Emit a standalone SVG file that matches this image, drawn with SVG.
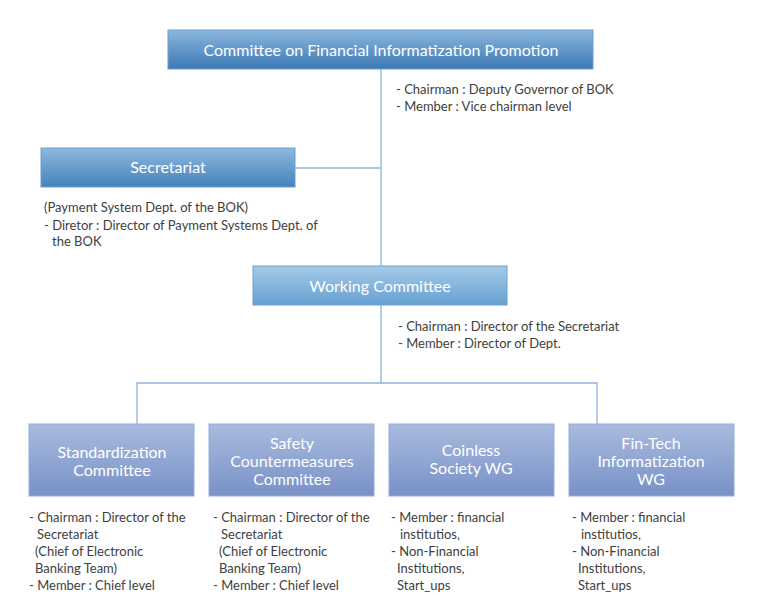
<svg xmlns="http://www.w3.org/2000/svg" width="762" height="612" viewBox="0 0 762 612">
<defs>
<linearGradient id="gTop" x1="0" y1="0" x2="0" y2="1"><stop offset="0" stop-color="#8cb7dd"/><stop offset="1" stop-color="#3b79b5"/></linearGradient>
<linearGradient id="gSec" x1="0" y1="0" x2="0" y2="1"><stop offset="0" stop-color="#8eb9de"/><stop offset="1" stop-color="#4482bd"/></linearGradient>
<linearGradient id="gWork" x1="0" y1="0" x2="0" y2="1"><stop offset="0" stop-color="#a6cae8"/><stop offset="1" stop-color="#65a0d2"/></linearGradient>
<linearGradient id="gLow" x1="0" y1="0" x2="0" y2="1"><stop offset="0" stop-color="#a9bbde"/><stop offset="1" stop-color="#7891c7"/></linearGradient>
<style>
.bx{stroke:#6f9fd0;stroke-width:1}
.lb{stroke:#93aedb;stroke-width:1}
.t{font-family:Lato,"Liberation Sans",sans-serif;fill:#fff;text-anchor:middle;font-size:16px}
.n{font-family:Lato,"Liberation Sans",sans-serif;fill:#404040;font-size:13px}
.c{fill:none;stroke:#8fb3dc;stroke-width:1.3}
</style>
</defs>
<rect width="762" height="612" fill="#fff"/>
<g id="connectors">
<path class="c" d="M381 69V266"/>
<path class="c" d="M295 168H381"/>
<path class="c" d="M381 305V383"/>
<path class="c" d="M137 424V383H597V424"/>
</g>
<g id="n-top">
<rect class="bx" x="168" y="30" width="425" height="39" fill="url(#gTop)"/>
<text class="t" x="381" y="56">Committee on Financial Informatization Promotion</text>
<text class="n" x="396" y="94">- Chairman : Deputy Governor of BOK</text>
<text class="n" x="396" y="111">- Member : Vice chairman level</text>
</g>
<g id="n-sec">
<rect class="bx" x="41" y="148" width="254" height="39" fill="url(#gSec)"/>
<text class="t" x="168" y="173">Secretariat</text>
<text class="n" x="44" y="212">(Payment System Dept. of the BOK)</text>
<text class="n" x="44" y="230">- Diretor : Director of Payment Systems Dept. of</text>
<text class="n" x="52" y="246">the BOK</text>
</g>
<g id="n-work">
<rect class="bx" x="253" y="266" width="254" height="39" fill="url(#gWork)"/>
<text class="t" x="380" y="292">Working Committee</text>
<text class="n" x="398" y="331">- Chairman : Director of the Secretariat</text>
<text class="n" x="398" y="348">- Member : Director of Dept.</text>
</g>
<g id="n-std">
<rect class="lb" x="29" y="424" width="165" height="72" fill="url(#gLow)"/>
<text class="t" x="112" y="458">Standardization</text>
<text class="t" x="112" y="476">Committee</text>
<text class="n" x="29" y="522">- Chairman : Director of the</text>
<text class="n" x="37" y="539">Secretariat</text>
<text class="n" x="35" y="556">(Chief of Electronic</text>
<text class="n" x="35" y="573">Banking Team)</text>
<text class="n" x="29" y="590">- Member : Chief level</text>
</g>
<g id="n-safety">
<rect class="lb" x="209" y="424" width="165" height="72" fill="url(#gLow)"/>
<text class="t" x="292" y="449">Safety</text>
<text class="t" x="292" y="467">Countermeasures</text>
<text class="t" x="292" y="485">Committee</text>
<text class="n" x="213" y="522">- Chairman : Director of the</text>
<text class="n" x="221" y="539">Secretariat</text>
<text class="n" x="219" y="556">(Chief of Electronic</text>
<text class="n" x="219" y="573">Banking Team)</text>
<text class="n" x="213" y="590">- Member : Chief level</text>
</g>
<g id="n-coin">
<rect class="lb" x="389" y="424" width="165" height="72" fill="url(#gLow)"/>
<text class="t" x="471" y="456">Coinless</text>
<text class="t" x="471" y="474">Society WG</text>
<text class="n" x="391" y="522">- Member : financial</text>
<text class="n" x="400" y="539">institutios,</text>
<text class="n" x="391" y="556">- Non-Financial</text>
<text class="n" x="397" y="573">Institutions,</text>
<text class="n" x="397" y="590">Start_ups</text>
</g>
<g id="n-fintech">
<rect class="lb" x="569" y="424" width="165" height="72" fill="url(#gLow)"/>
<text class="t" x="651" y="449">Fin-Tech</text>
<text class="t" x="651" y="467">Informatization</text>
<text class="t" x="651" y="485">WG</text>
<text class="n" x="572" y="522">- Member : financial</text>
<text class="n" x="581" y="539">institutios,</text>
<text class="n" x="572" y="556">- Non-Financial</text>
<text class="n" x="578" y="573">Institutions,</text>
<text class="n" x="578" y="590">Start_ups</text>
</g>
</svg>
